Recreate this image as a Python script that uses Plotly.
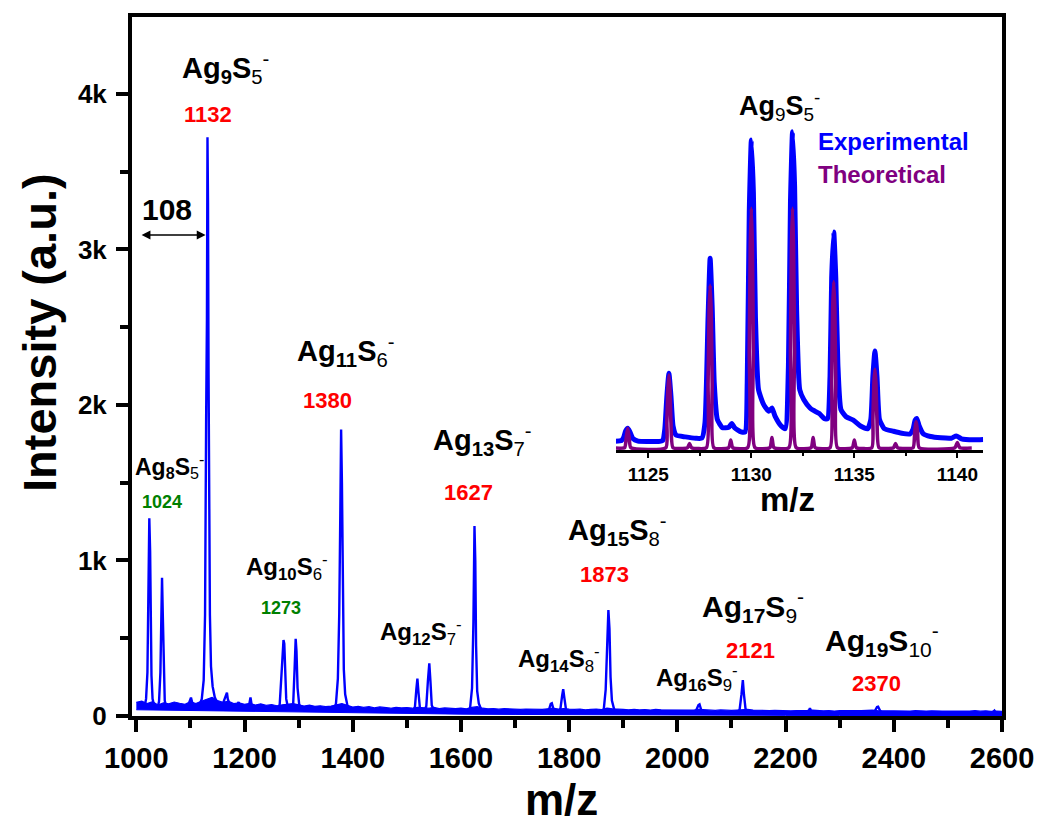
import plotly.graph_objects as go

FONT = "Liberation Sans, Arial, sans-serif"
BLUE = "#0000FF"
PURPLE = "#800080"
RED = "#FF0000"
GREEN = "#008000"

# ---------------- main spectrum: noise band (top edge every 10 m/z, bottom edge every 100) ----------------
NOISE_TOP_MZ = list(range(1000, 2601, 10))
NOISE_TOP_I = [88, 95, 80, 92, 70, 85, 78, 90, 82, 75,
               92, 80, 95, 110, 120, 100, 88, 95, 80, 85,
               75, 82, 70, 78, 68, 74, 66, 72, 76, 80,
               72, 64, 70, 62, 66, 60, 64, 70, 80, 68,
               58, 62, 55, 60, 52, 58, 55, 50, 56, 52,
               54, 50, 56, 52, 50, 55, 48, 52, 50, 47,
               50, 46, 55, 60, 50, 46, 48, 44, 47, 45,
               46, 42, 45, 44, 47, 42, 46, 50, 45, 48,
               44, 42, 45, 40, 43, 45, 41, 50, 46, 42,
               42, 40, 43, 39, 41, 38, 42, 40, 39, 41,
               40, 37, 39, 38, 42, 40, 38, 36, 39, 37,
               36, 38, 40, 42, 38, 36, 37, 35, 36, 34,
               36, 33, 35, 34, 36, 38, 34, 33, 35, 32,
               34, 33, 35, 32, 34, 36, 38, 34, 33, 32,
               34, 31, 33, 32, 34, 31, 32, 33, 31, 32,
               32, 31, 33, 30, 32, 34, 31, 33, 30, 32,
               30]
NOISE_BOT_MZ = list(range(1000, 2601, 100))
NOISE_BOT_I = [40, 35, 28, 24, 18, 14, 12, 10, 8, 6, 5, 4, 4, 3, 3, 3, 3]

# ---------------- main spectrum: peaks (m/z, intensity) ----------------
PEAK_1024_MZ = [1015, 1018, 1020.5, 1022.5, 1024, 1025.5, 1026.5, 1028, 1030, 1034]
PEAK_1024_I = [55, 110, 280, 780, 1271, 1060, 620, 260, 110, 50]
PEAK_1048_MZ = [1039, 1042, 1044.5, 1046.5, 1047.5, 1049, 1050.5, 1052.5, 1056]
PEAK_1048_I = [45, 95, 280, 650, 889, 640, 260, 100, 45]
PEAK_1101_MZ = [1095, 1099, 1101, 1103, 1107]
PEAK_1101_I = [60, 95, 118, 90, 60]
PEAK_1132_MZ = [1116, 1121, 1124.5, 1127, 1129, 1130.5, 1131.5, 1132.5, 1133.5, 1134.5, 1136, 1138,
                1141, 1145, 1150]
PEAK_1132_I = [65, 110, 230, 650, 1900, 2550, 3721, 3300, 2200, 1300, 650, 320, 190, 120, 80]
PEAK_1167_MZ = [1159, 1163, 1166, 1167.5, 1169, 1173]
PEAK_1167_I = [70, 105, 135, 150, 110, 70]
PEAK_1189_MZ = [1184, 1187, 1189, 1191, 1194]
PEAK_1189_I = [50, 72, 90, 68, 50]
PEAK_1211_MZ = [1205, 1209, 1211, 1213, 1217]
PEAK_1211_I = [45, 80, 120, 75, 45]
PEAK_1273_MZ = [1261, 1265, 1268.5, 1270.5, 1272, 1273.5, 1275, 1277, 1280, 1284]
PEAK_1273_I = [40, 75, 280, 470, 489, 465, 300, 110, 60, 40]
PEAK_1295_MZ = [1286, 1290, 1292.5, 1294.5, 1296, 1298, 1301, 1306]
PEAK_1295_I = [40, 85, 300, 497, 420, 180, 75, 40]
PEAK_1380_MZ = [1365, 1369, 1372.5, 1375, 1377, 1378.5, 1380, 1381.5, 1383.5, 1386, 1390, 1396]
PEAK_1380_I = [40, 80, 240, 650, 1300, 1843, 1500, 800, 300, 140, 70, 40]
PEAK_1520_MZ = [1511, 1515, 1517.5, 1519.5, 1521.5, 1524, 1528]
PEAK_1520_I = [30, 60, 170, 240, 150, 55, 30]
PEAK_1542_MZ = [1532, 1536, 1539, 1541.5, 1543.5, 1546, 1551]
PEAK_1542_I = [30, 65, 230, 339, 230, 70, 30]
PEAK_1627_MZ = [1613, 1617, 1620.5, 1623, 1625, 1626.5, 1628, 1630, 1633, 1637, 1643]
PEAK_1627_I = [28, 55, 180, 600, 1221, 1000, 450, 160, 80, 45, 28]
PEAK_1767_MZ = [1759, 1763, 1766, 1768, 1771, 1775]
PEAK_1767_I = [25, 45, 78, 82, 45, 25]
PEAK_1789_MZ = [1780, 1784, 1787, 1789, 1791, 1794, 1799]
PEAK_1789_I = [25, 50, 130, 172, 120, 45, 25]
PEAK_1873_MZ = [1860, 1864, 1867.5, 1870.5, 1872.5, 1874.5, 1876.5, 1879, 1883, 1889]
PEAK_1873_I = [25, 45, 170, 480, 681, 560, 250, 100, 45, 25]
PEAK_2040_MZ = [2031, 2035, 2039, 2041, 2044, 2049]
PEAK_2040_I = [22, 38, 70, 75, 40, 22]
PEAK_2121_MZ = [2111, 2115, 2118.5, 2121, 2123, 2126, 2131]
PEAK_2121_I = [20, 40, 140, 231, 140, 45, 20]
PEAK_2245_MZ = [2239, 2243, 2245, 2247, 2251]
PEAK_2245_I = [18, 32, 50, 32, 18]
PEAK_2370_MZ = [2361, 2365, 2369, 2371, 2375, 2380]
PEAK_2370_I = [18, 32, 58, 60, 32, 18]
PEAK_2585_MZ = [2581, 2584, 2586, 2589]
PEAK_2585_I = [18, 32, 34, 18]

PEAKS = [
    (PEAK_1024_MZ, PEAK_1024_I), (PEAK_1048_MZ, PEAK_1048_I), (PEAK_1101_MZ, PEAK_1101_I),
    (PEAK_1132_MZ, PEAK_1132_I), (PEAK_1167_MZ, PEAK_1167_I), (PEAK_1189_MZ, PEAK_1189_I),
    (PEAK_1211_MZ, PEAK_1211_I), (PEAK_1273_MZ, PEAK_1273_I), (PEAK_1295_MZ, PEAK_1295_I),
    (PEAK_1380_MZ, PEAK_1380_I), (PEAK_1520_MZ, PEAK_1520_I), (PEAK_1542_MZ, PEAK_1542_I),
    (PEAK_1627_MZ, PEAK_1627_I), (PEAK_1767_MZ, PEAK_1767_I), (PEAK_1789_MZ, PEAK_1789_I),
    (PEAK_1873_MZ, PEAK_1873_I), (PEAK_2040_MZ, PEAK_2040_I), (PEAK_2121_MZ, PEAK_2121_I),
    (PEAK_2245_MZ, PEAK_2245_I), (PEAK_2370_MZ, PEAK_2370_I), (PEAK_2585_MZ, PEAK_2585_I),
]

# ---------------- inset: Ag9S5- isotope pattern ----------------
EXP_MZ = [1123.4, 1123.7, 1123.8, 1123.9, 1124.0, 1124.1, 1124.25, 1124.5, 1125.0, 1125.5,
          1125.7, 1125.8, 1125.9, 1126.0, 1126.1, 1126.2, 1126.35, 1126.8, 1127.3, 1127.6,
          1127.75, 1127.9, 1128.0, 1128.1, 1128.2, 1128.35, 1128.6, 1128.9, 1129.05, 1129.2,
          1129.5, 1129.7, 1129.8, 1129.9, 1130.0, 1130.1, 1130.2, 1130.35, 1130.6, 1130.85,
          1131.0, 1131.15, 1131.45, 1131.65, 1131.8, 1131.9, 1132.0, 1132.1, 1132.2, 1132.35,
          1132.55, 1132.85, 1133.0, 1133.3, 1133.55, 1133.7, 1133.82, 1133.9, 1134.0, 1134.1,
          1134.2, 1134.35, 1134.6, 1134.95, 1135.3, 1135.65, 1135.8, 1135.9, 1136.0, 1136.1,
          1136.22, 1136.45, 1136.9, 1137.3, 1137.7, 1137.85, 1137.95, 1138.03, 1138.15, 1138.35,
          1138.7, 1139.2, 1139.7, 1139.95, 1140.2, 1140.8, 1141.25]
EXP_I = [2.4, 2.6, 3.5, 5.5, 6.3, 5.3, 3.2, 2.4, 2.3, 2.3,
         2.6, 6.0, 16.0, 23.0, 16.0, 7.0, 4.2, 3.7, 3.3, 3.3,
         8.0, 40.0, 58.0, 43.0, 20.0, 9.0, 6.5, 6.6, 7.8, 6.4,
         5.2, 5.2, 20.0, 72.0, 93.9, 78.0, 40.0, 18.0, 13.5, 11.5,
         12.5, 10.0, 7.0, 6.2, 25.0, 75.0, 96.4, 80.0, 42.0, 18.0,
         15.0, 12.5, 11.8, 10.8, 9.2, 9.2, 22.0, 52.0, 66.0, 52.0,
         26.0, 12.0, 9.8, 8.8, 7.0, 6.2, 9.0, 22.0, 29.8, 22.0,
         9.0, 6.2, 5.4, 4.8, 4.6, 6.0, 8.8, 9.3, 7.0, 4.6,
         3.8, 3.4, 3.3, 4.0, 3.1, 2.8, 2.9]

THEO_MZ = [1123.4, 1123.85, 1123.93, 1124.0, 1124.07, 1124.15,
           1125.85, 1125.9, 1125.95, 1126.0, 1126.05, 1126.1, 1126.2,
           1126.9, 1127.0, 1127.1,
           1127.82, 1127.9, 1127.95, 1128.0, 1128.05, 1128.1, 1128.18,
           1128.9, 1129.0, 1129.1,
           1129.82, 1129.9, 1129.95, 1130.0, 1130.05, 1130.1, 1130.18,
           1130.9, 1131.0, 1131.1,
           1131.82, 1131.9, 1131.95, 1132.0, 1132.05, 1132.1, 1132.18,
           1132.9, 1133.0, 1133.1,
           1133.82, 1133.9, 1133.95, 1134.0, 1134.05, 1134.1, 1134.18,
           1134.9, 1135.0, 1135.1,
           1135.85, 1135.9, 1135.95, 1136.0, 1136.05, 1136.1, 1136.2,
           1136.9, 1137.0, 1137.1,
           1137.85, 1137.93, 1138.0, 1138.07, 1138.15,
           1139.88, 1140.0, 1140.12, 1140.7]
THEO_I = [0.3, 0.4, 3.5, 6.3, 3.5, 0.4,
          0.4, 8.0, 18.0, 22.5, 18.0, 8.0, 0.4,
          0.4, 1.7, 0.4,
          0.4, 20.0, 42.0, 49.8, 42.0, 20.0, 0.4,
          0.4, 2.7, 0.4,
          0.4, 30.0, 62.0, 73.2, 62.0, 30.0, 0.4,
          0.4, 3.5, 0.4,
          0.4, 30.0, 62.0, 73.2, 62.0, 30.0, 0.4,
          0.4, 3.5, 0.4,
          0.4, 21.0, 43.0, 50.9, 43.0, 21.0, 0.4,
          0.4, 2.7, 0.4,
          0.4, 9.0, 20.0, 24.2, 20.0, 9.0, 0.4,
          0.4, 1.7, 0.4,
          0.4, 5.0, 8.3, 5.0, 0.4,
          0.4, 2.0, 0.4, 0.3]

# ---------------- peaks as separate segments ----------------
peak_x, peak_y = [], []
for m_list, i_list in PEAKS:
    peak_x.extend(list(m_list) + [None])
    peak_y.extend(list(i_list) + [None])

fig = go.Figure()
# noise band: bottom edge then top edge filled to it
fig.add_trace(go.Scatter(x=NOISE_BOT_MZ, y=NOISE_BOT_I, mode="lines",
                         line=dict(color=BLUE, width=1), showlegend=False,
                         xaxis="x", yaxis="y"))
fig.add_trace(go.Scatter(x=NOISE_TOP_MZ, y=NOISE_TOP_I, mode="lines", fill="tonexty",
                         fillcolor=BLUE, line=dict(color=BLUE, width=1.2), showlegend=False,
                         xaxis="x", yaxis="y"))
fig.add_trace(go.Scatter(x=peak_x, y=peak_y, mode="lines", connectgaps=False,
                         line=dict(color=BLUE, width=2.4), showlegend=False,
                         xaxis="x", yaxis="y"))
fig.add_trace(go.Scatter(x=EXP_MZ, y=EXP_I, mode="lines",
                         line=dict(color=BLUE, width=5, shape="spline", smoothing=0.5),
                         showlegend=False, xaxis="x2", yaxis="y2"))
fig.add_trace(go.Scatter(x=THEO_MZ, y=THEO_I, mode="lines",
                         line=dict(color=PURPLE, width=3.6, shape="spline", smoothing=0.5),
                         showlegend=False, xaxis="x2", yaxis="y2"))

# ---------------- annotations ----------------
ann = []

def formula(x, y, ag, s, size):
    ann.append(dict(x=x, y=y, xref="x", yref="y", showarrow=False,
                    xanchor="center", yanchor="middle",
                    text=f"<b>Ag<sub>{ag}</sub>S</b><sub>{s}</sub><sup>-</sup>",
                    font=dict(family=FONT, size=size, color="black")))

def mass(x, y, txt, color, size):
    ann.append(dict(x=x, y=y, xref="x", yref="y", showarrow=False,
                    xanchor="center", yanchor="middle",
                    text=f"<b>{txt}</b>", font=dict(family=FONT, size=size, color=color)))

BIG, SMALL = 29, 24
formula(1165, 4167, 9, 5, BIG); mass(1132, 3871, "1132", RED, 22)
formula(1387, 2347, 11, 6, BIG); mass(1354, 2026, "1380", RED, 22)
formula(1062, 1608, 8, 5, 23); mass(1047, 1376, "1024", GREEN, 18)
formula(1279, 958, 10, 6, SMALL); mass(1268, 694, "1273", GREEN, 18)
formula(1527, 540, 12, 7, SMALL)
formula(1639, 1775, 13, 7, BIG); mass(1614, 1440, "1627", RED, 22)
formula(1781, 367, 14, 8, SMALL)
formula(1890, 1196, 15, 8, BIG); mass(1866, 907, "1873", RED, 22)
formula(2036, 244, 16, 9, SMALL)
formula(2140, 707, 17, 9, 30); mass(2136, 420, "2121", RED, 22)
formula(2378, 489, 19, 10, 30); mass(2368, 206, "2370", RED, 22)

# 108 spacing arrow
ann.append(dict(x=1128, y=3093, ax=1007, ay=3093, xref="x", yref="y", axref="x", ayref="y",
                text="", showarrow=True, arrowhead=2, startarrowhead=2, arrowside="end+start",
                arrowwidth=1.6, arrowsize=1.1, startarrowsize=1.1, arrowcolor="black"))
mass(1056, 3254, "108", "black", 30)

# axis titles
ann.append(dict(x=-0.1057, y=0.548, xref="paper", yref="paper", showarrow=False, textangle=-90,
                xanchor="center", yanchor="middle",
                text="<b>Intensity (a.u.)</b>", font=dict(family=FONT, size=47, color="black")))
ann.append(dict(x=0.494, y=-0.119, xref="paper", yref="paper", showarrow=False,
                xanchor="center", yanchor="middle",
                text="<b>m/z</b>", font=dict(family=FONT, size=44, color="black")))

# inset labels
ann.append(dict(x=0.7448, y=0.8727, xref="paper", yref="paper", showarrow=False,
                xanchor="center", yanchor="middle",
                text="<b>Ag</b><sub>9</sub><b>S</b><sub>5</sub><sup>-</sup>",
                font=dict(family=FONT, size=27, color="black")))
ann.append(dict(x=0.7862, y=0.8226, xref="paper", yref="paper", showarrow=False,
                xanchor="left", yanchor="middle",
                text="<b>Experimental</b>", font=dict(family=FONT, size=24, color=BLUE)))
ann.append(dict(x=0.7862, y=0.774, xref="paper", yref="paper", showarrow=False,
                xanchor="left", yanchor="middle",
                text="<b>Theoretical</b>", font=dict(family=FONT, size=24, color=PURPLE)))
ann.append(dict(x=0.754, y=0.3104, xref="paper", yref="paper", showarrow=False,
                xanchor="center", yanchor="middle",
                text="<b>m/z</b>", font=dict(family=FONT, size=33, color="black")))

# the page body adds an 8 px offset, so the figure is 8 px smaller and margins shifted
fig.update_layout(
    width=1034, height=811,
    margin=dict(l=124, r=40, t=9, b=103, autoexpand=False),
    paper_bgcolor="white", plot_bgcolor="white",
    showlegend=False,
    annotations=ann,
    xaxis=dict(domain=[0, 1], range=[992, 2600], showgrid=False, zeroline=False,
               automargin=False,
               showline=True, linewidth=4, linecolor="black", mirror=True,
               ticks="outside", ticklen=12, tickwidth=4, tickcolor="black",
               tick0=1000, dtick=200, ticklabelstandoff=1,
               minor=dict(ticks="outside", dtick=100, tick0=1000, ticklen=8, tickwidth=4,
                          tickcolor="black", showgrid=False),
               tickfont=dict(family=FONT, size=29, color="black", weight="bold")),
    yaxis=dict(domain=[0, 1], range=[0, 4495], showgrid=False, zeroline=False,
               automargin=False,
               showline=True, linewidth=4, linecolor="black", mirror=True,
               ticks="outside", ticklen=12, tickwidth=4, tickcolor="black",
               tickvals=[0, 1000, 2000, 3000, 4000], ticktext=["0", "1k", "2k", "3k", "4k"],
               ticklabelstandoff=4,
               minor=dict(ticks="outside", tickvals=[500, 1500, 2500, 3500], ticklen=8,
                          tickwidth=4, tickcolor="black", showgrid=False),
               tickfont=dict(family=FONT, size=26, color="black", weight="bold")),
    xaxis2=dict(domain=[0.5563, 0.9785], anchor="y2", range=[1123.43, 1141.26],
                automargin=False,
                showgrid=False, zeroline=False, showline=True, linewidth=2.5, linecolor="black",
                ticks="outside", ticklen=5, tickwidth=2, tickcolor="black",
                tick0=1125, dtick=5,
                minor=dict(ticks="outside", dtick=2.5, tick0=1125, ticklen=3, tickwidth=2,
                           tickcolor="black", showgrid=False),
                tickfont=dict(family=FONT, size=19, color="black", weight="bold")),
    yaxis2=dict(domain=[0.3805, 0.8526], anchor="x2", range=[-0.3, 100], visible=False),
)

fig.write_html("out.html")
